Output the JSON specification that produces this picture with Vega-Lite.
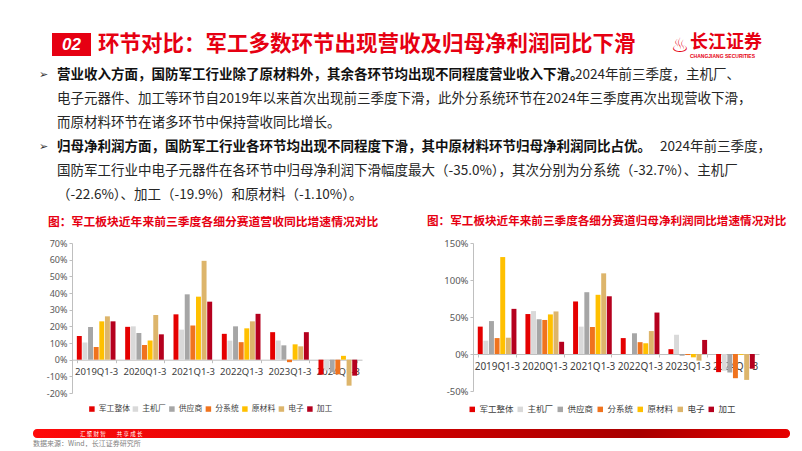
{
  "$schema": "https://vega.github.io/schema/vega-lite/v6.json",
  "padding": {"left": 33, "top": 33, "right": 0, "bottom": 0},
  "background": "white",
  "bounds": "flush",
  "spacing": 0,
  "config": {"view": {"stroke": null}, "font": "Noto Sans CJK SC"},
  "datasets": {
    "bars": [
      {"period": "2019Q1-3", "seg": "军工整体", "rev": 14.2, "np": 37},
      {"period": "2019Q1-3", "seg": "主机厂", "rev": 10.3, "np": 18},
      {"period": "2019Q1-3", "seg": "供应商", "rev": 19.6, "np": 44.5},
      {"period": "2019Q1-3", "seg": "分系统", "rev": 7.6, "np": 21.5},
      {"period": "2019Q1-3", "seg": "原材料", "rev": 23.0, "np": 131},
      {"period": "2019Q1-3", "seg": "电子", "rev": 26.0, "np": 22},
      {"period": "2019Q1-3", "seg": "加工", "rev": 23.0, "np": 61},
      {"period": "2020Q1-3", "seg": "军工整体", "rev": 19.7, "np": 54},
      {"period": "2020Q1-3", "seg": "主机厂", "rev": 20.0, "np": 58},
      {"period": "2020Q1-3", "seg": "供应商", "rev": 16.0, "np": 47},
      {"period": "2020Q1-3", "seg": "分系统", "rev": 8.8, "np": 46},
      {"period": "2020Q1-3", "seg": "原材料", "rev": 11.5, "np": 53.5},
      {"period": "2020Q1-3", "seg": "电子", "rev": 26.8, "np": 57.5},
      {"period": "2020Q1-3", "seg": "加工", "rev": 15.2, "np": 16.5},
      {"period": "2021Q1-3", "seg": "军工整体", "rev": 27.2, "np": 71},
      {"period": "2021Q1-3", "seg": "主机厂", "rev": 18.0, "np": 37},
      {"period": "2021Q1-3", "seg": "供应商", "rev": 39.2, "np": 83.5},
      {"period": "2021Q1-3", "seg": "分系统", "rev": 20.5, "np": 36.5},
      {"period": "2021Q1-3", "seg": "原材料", "rev": 37.8, "np": 80},
      {"period": "2021Q1-3", "seg": "电子", "rev": 59.3, "np": 109},
      {"period": "2021Q1-3", "seg": "加工", "rev": 34.8, "np": 78},
      {"period": "2022Q1-3", "seg": "军工整体", "rev": 15.5, "np": 21.5},
      {"period": "2022Q1-3", "seg": "主机厂", "rev": 11.4, "np": 0},
      {"period": "2022Q1-3", "seg": "供应商", "rev": 20.0, "np": 28},
      {"period": "2022Q1-3", "seg": "分系统", "rev": 10.5, "np": 16},
      {"period": "2022Q1-3", "seg": "原材料", "rev": 18.8, "np": 14.5},
      {"period": "2022Q1-3", "seg": "电子", "rev": 23.0, "np": 31},
      {"period": "2022Q1-3", "seg": "加工", "rev": 27.5, "np": 56},
      {"period": "2023Q1-3", "seg": "军工整体", "rev": 16.5, "np": 6.5},
      {"period": "2023Q1-3", "seg": "主机厂", "rev": 11.5, "np": 26},
      {"period": "2023Q1-3", "seg": "供应商", "rev": 8.6, "np": -2.3},
      {"period": "2023Q1-3", "seg": "分系统", "rev": -1.5, "np": -1.4},
      {"period": "2023Q1-3", "seg": "原材料", "rev": 9.2, "np": -4.5},
      {"period": "2023Q1-3", "seg": "电子", "rev": 8.0, "np": -9},
      {"period": "2023Q1-3", "seg": "加工", "rev": 16.5, "np": 19},
      {"period": "2024Q1-3", "seg": "军工整体", "rev": -9.0, "np": -24.5},
      {"period": "2024Q1-3", "seg": "主机厂", "rev": -6.5, "np": -22.6},
      {"period": "2024Q1-3", "seg": "供应商", "rev": -7.5, "np": -25},
      {"period": "2024Q1-3", "seg": "分系统", "rev": -8.8, "np": -32.7},
      {"period": "2024Q1-3", "seg": "原材料", "rev": 2.3, "np": -1.1},
      {"period": "2024Q1-3", "seg": "电子", "rev": -15.6, "np": -35.0},
      {"period": "2024Q1-3", "seg": "加工", "rev": -9.6, "np": -19.9}
    ],
    "text": [
      {"line": 1, "p": "a", "t": "➢"},
      {"line": 1, "p": "b", "t": "营业收入方面，国防军工行业除了原材料外，其余各环节均出现不同程度营业收入下滑。"},
      {"line": 1, "p": "c1", "t": "2024年前三季度，主机厂、"},
      {"line": 2, "p": "n", "t": "电子元器件、加工等环节自2019年以来首次出现前三季度下滑，此外分系统环节在2024年三季度再次出现营收下滑，"},
      {"line": 3, "p": "n", "t": "而原材料环节在诸多环节中保持营收同比增长。"},
      {"line": 4, "p": "a", "t": "➢"},
      {"line": 4, "p": "b", "t": "归母净利润方面，国防军工行业各环节均出现不同程度下滑，其中原材料环节归母净利润同比占优。"},
      {"line": 4, "p": "c4", "t": "2024年前三季度，"},
      {"line": 5, "p": "n", "t": "国防军工行业中电子元器件在各环节中归母净利润下滑幅度最大（-35.0%），其次分别为分系统（-32.7%）、主机厂"},
      {"line": 6, "p": "n", "t": "（-22.6%）、加工（-19.9%）和原材料（-1.10%）。"}
    ]
  },
  "vconcat": [
    {
      "hconcat": [
        {"width": 19, "height": 23, "data": {"values": []}, "mark": "point", "encoding": {}},
        {
          "width": 39, "height": 23,
          "view": {"fill": "#e60012", "stroke": null},
          "data": {"values": [{"t": "02"}]},
          "mark": {"type": "text", "color": "white", "fontSize": 17, "fontStyle": "italic", "fontWeight": "bold", "font": "Liberation Sans", "align": "center", "baseline": "middle"},
          "encoding": {"text": {"field": "t"}, "x": {"value": 19.5}, "y": {"value": 12}}
        },
        {
          "width": 577, "height": 23,
          "data": {"values": [{"t": "环节对比：军工多数环节出现营收及归母净利润同比下滑"}]},
          "mark": {"type": "text", "color": "#e60012", "fontSize": 21.5, "fontWeight": "bold", "align": "left", "baseline": "middle"},
          "encoding": {"text": {"field": "t"}, "x": {"value": 7}, "y": {"value": 12}}
        },
        {
          "width": 110, "height": 23,
          "data": {"values": [{"t": "长江证券", "k": "a"}, {"t": "CHANGJIANG SECURITIES", "k": "b"}, {"t": "♨", "k": "c"}]},
          "layer": [
            {
              "transform": [{"filter": "datum.k == 'a'"}],
              "mark": {"type": "text", "color": "#e60012", "fontSize": 18, "fontWeight": "bold", "align": "left", "baseline": "middle"},
              "encoding": {"text": {"field": "t"}, "x": {"value": 22}, "y": {"value": 10}}
            },
            {
              "transform": [{"filter": "datum.k == 'b'"}],
              "mark": {"type": "text", "color": "#e60012", "fontSize": 5, "fontWeight": "bold", "align": "left", "baseline": "middle", "font": "Liberation Sans"},
              "encoding": {"text": {"field": "t"}, "x": {"value": 22}, "y": {"value": 23}}
            },
            {
              "transform": [{"filter": "datum.k == 'c'"}],
              "mark": {"type": "text", "color": "#e60012", "fontSize": 20, "align": "center", "baseline": "middle", "font": "DejaVu Sans"},
              "encoding": {"text": {"field": "t"}, "x": {"value": 12}, "y": {"value": 13}}
            }
          ]
        }
      ],
      "spacing": 0,
      "bounds": "flush"
    },
    {"width": 1, "height": 23, "data": {"values": []}, "mark": "point", "encoding": {}},
    {
      "width": 769, "height": 187,
      "data": {"name": "text"},
      "encoding": {
        "y": {"field": "line", "type": "ordinal", "scale": {"type": "point", "range": [19, 139], "padding": 0}, "axis": null},
        "text": {"field": "t"}
      },
      "layer": [
        {
          "transform": [{"filter": "datum.p == 'a'"}],
          "mark": {"type": "text", "align": "left", "baseline": "middle", "fontSize": 11, "color": "#333333", "font": "DejaVu Sans"},
          "encoding": {"x": {"value": 6}}
        },
        {
          "transform": [{"filter": "datum.p == 'b'"}],
          "mark": {"type": "text", "align": "left", "baseline": "middle", "fontSize": 13.5, "fontWeight": "bold", "color": "#111111"},
          "encoding": {"x": {"value": 24}}
        },
        {
          "transform": [{"filter": "datum.p == 'c1'"}],
          "mark": {"type": "text", "align": "left", "baseline": "middle", "fontSize": 13.5, "color": "#262626"},
          "encoding": {"x": {"value": 542}}
        },
        {
          "transform": [{"filter": "datum.p == 'c4'"}],
          "mark": {"type": "text", "align": "left", "baseline": "middle", "fontSize": 13.5, "color": "#262626"},
          "encoding": {"x": {"value": 627}}
        },
        {
          "transform": [{"filter": "datum.p == 'n'"}],
          "mark": {"type": "text", "align": "left", "baseline": "middle", "fontSize": 13.5, "color": "#262626"},
          "encoding": {"x": {"value": 24}}
        }
      ]
    },
    {
      "hconcat": [
        {"width": 39, "height": 150, "data": {"values": []}, "mark": "point", "encoding": {}},
        {
          "width": 290, "height": 150,
          "title": {"text": "图：军工板块近年来前三季度各细分赛道营收同比增速情况对比", "anchor": "start", "frame": "group", "dx": -24, "offset": 10, "fontSize": 11.8, "fontWeight": "bold", "color": "#e60012"},
          "data": {"name": "bars"},
          "mark": {"type": "bar"},
          "encoding": {
            "x": {"field": "period", "type": "nominal", "sort": null, "scale": {"paddingInner": 0.2, "paddingOuter": 0.1},
              "axis": {"title": null, "labelAngle": 0, "offset": -33.3, "domainColor": "#bfbfbf", "tickBand": "extent", "tickSize": 3, "tickColor": "#bfbfbf", "labelFontSize": 9.5, "labelColor": "#404040", "labelPadding": 4, "labelFont": "Noto Sans"}},
            "xOffset": {"field": "seg", "type": "nominal", "sort": ["军工整体", "主机厂", "供应商", "分系统", "原材料", "电子", "加工"], "scale": {"paddingInner": 0.12}},
            "y": {"field": "rev", "type": "quantitative", "scale": {"domain": [-20, 70]},
              "axis": {"title": null, "values": [-20, -10, 0, 10, 20, 30, 40, 50, 60, 70], "labelExpr": "datum.value + '%'", "grid": false, "domainColor": "#bfbfbf", "tickColor": "#bfbfbf", "tickSize": 3, "labelFontSize": 9, "labelColor": "#595959", "labelPadding": 2, "labelFont": "Noto Sans"}},
            "color": {"field": "seg", "type": "nominal",
              "scale": {"domain": ["军工整体", "主机厂", "供应商", "分系统", "原材料", "电子", "加工"], "range": ["#e50000", "#d9d9d9", "#a6a6a6", "#f0731e", "#ffc000", "#ddb56b", "#b5001e"]},
              "legend": {"orient": "none", "legendX": 16, "legendY": 162, "direction": "horizontal", "title": null, "symbolType": "square", "symbolSize": 30, "symbolStrokeWidth": 0, "labelFontSize": 7.8, "labelColor": "#404040", "columnPadding": 1.5, "labelOffset": 3}}
          }
        },
        {"width": 111, "height": 150, "data": {"values": []}, "mark": "point", "encoding": {}},
        {
          "width": 286, "height": 148,
          "title": {"text": "图：军工板块近年来前三季度各细分赛道归母净利润同比增速情况对比", "anchor": "start", "frame": "group", "dx": -46, "offset": 10, "fontSize": 11.6, "fontWeight": "bold", "color": "#e60012"},
          "data": {"name": "bars"},
          "mark": {"type": "bar"},
          "encoding": {
            "x": {"field": "period", "type": "nominal", "sort": null, "scale": {"paddingInner": 0.2, "paddingOuter": 0.1},
              "axis": {"title": null, "labelAngle": 0, "offset": -37, "domainColor": "#bfbfbf", "tickBand": "extent", "tickSize": 3, "tickColor": "#bfbfbf", "labelFontSize": 10, "labelColor": "#404040", "labelPadding": 4, "labelFont": "Noto Sans"}},
            "xOffset": {"field": "seg", "type": "nominal", "sort": ["军工整体", "主机厂", "供应商", "分系统", "原材料", "电子", "加工"], "scale": {"paddingInner": 0.12}},
            "y": {"field": "np", "type": "quantitative", "scale": {"domain": [-50, 150]},
              "axis": {"title": null, "values": [-50, 0, 50, 100, 150], "labelExpr": "datum.value + '%'", "grid": false, "domainColor": "#bfbfbf", "tickColor": "#bfbfbf", "tickSize": 3, "labelFontSize": 9.5, "labelColor": "#595959", "labelPadding": 2, "labelFont": "Noto Sans"}},
            "color": {"field": "seg", "type": "nominal",
              "scale": {"domain": ["军工整体", "主机厂", "供应商", "分系统", "原材料", "电子", "加工"], "range": ["#e50000", "#d9d9d9", "#a6a6a6", "#f0731e", "#ffc000", "#ddb56b", "#b5001e"]},
              "legend": {"orient": "none", "legendX": -5, "legendY": 162, "direction": "horizontal", "title": null, "symbolType": "square", "symbolSize": 30, "symbolStrokeWidth": 0, "labelFontSize": 8.5, "labelColor": "#404040", "columnPadding": 2, "labelOffset": 3}}
          }
        }
      ],
      "spacing": 0,
      "bounds": "flush",
      "resolve": {"scale": {"color": "independent", "x": "independent", "y": "independent"}, "legend": {"color": "independent"}}
    },
    {"width": 1, "height": 186, "data": {"values": []}, "mark": "point", "encoding": {}},
    {
      "width": 757, "height": 9,
      "view": {"stroke": null, "cornerRadius": 4, "fill": {"gradient": "linear", "x1": 0, "x2": 1, "y1": 0, "y2": 0, "stops": [{"offset": 0, "color": "#ff0a0a"}, {"offset": 0.45, "color": "#d40000"}, {"offset": 0.8, "color": "#a80000"}, {"offset": 1, "color": "#e60000"}]}},
      "title": {"text": "数据来源：Wind，长江证券研究所", "orient": "bottom", "anchor": "start", "frame": "group", "fontSize": 7, "fontWeight": "normal", "color": "#7f7f7f", "offset": 2},
      "data": {"values": [{"t": "汇 聚 财 智　　共 享 成 长"}]},
      "mark": {"type": "text", "color": "white", "fontSize": 5.5, "align": "left", "baseline": "middle"},
      "encoding": {"text": {"field": "t"}, "x": {"value": 47}, "y": {"value": 4.5}}
    }
  ]
}
